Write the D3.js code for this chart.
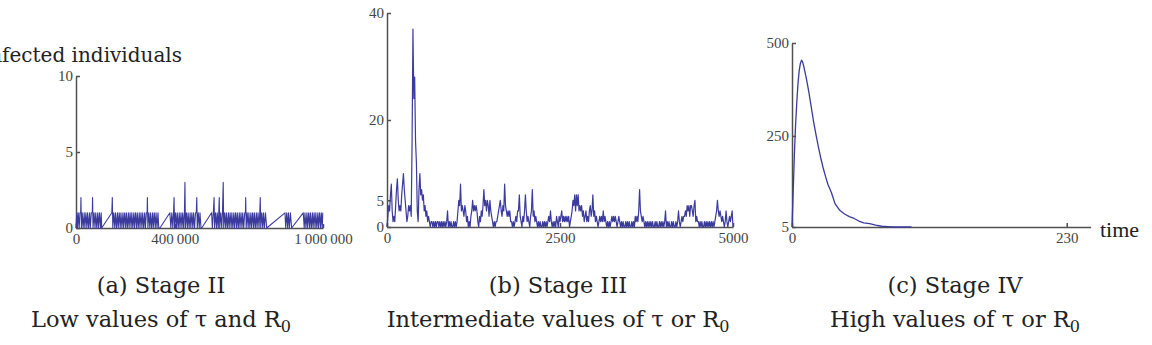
<!DOCTYPE html>
<html>
<head>
<meta charset="utf-8">
<script src="https://cdn.jsdelivr.net/npm/d3@7"></script>
<style>
  body { margin: 0; background: #fff; }
  svg { display: block; }
  .axis path, .axis line { stroke: #505050; stroke-width: 1.5; }
  .axis text { font-family: "Liberation Serif", serif; font-size: 15px; fill: #444; }
  .caption { font-family: "DejaVu Serif", serif; font-size: 22.5px; fill: #222; }
  .label { font-family: "DejaVu Serif", serif; fill: #222; }
</style>
</head>
<body>
<svg id="chart" width="1152" height="345"></svg>
<script>
// (a) Stage II : [time in thousands, infected]
var stageIIPoints = [
  [0,0],[3,1],[6,0],[9,1],[13,0],[16,1],[19,1],[20,2],[22,0],[25,1],[29,0],[33,1],[36,0],[40,1],[44,0],[47,1],
  [51,0],[55,1],[58,0],[62,1],[66,1],[67,2],[69,0],[73,1],[77,0],[80,1],[84,0],[88,1],[91,0],[95,1],[99,0],[102,1],[104,0],
  [145,1],[147,2],[149,0],[153,1],[157,0],[160,1],[164,0],[168,1],[171,0],[175,1],[179,0],[182,1],[186,0],[190,1],[193,0],
  [197,1],[201,0],[204,1],[208,0],[212,1],[215,0],[219,1],[223,0],[226,1],[230,0],[234,1],[237,0],[241,1],[245,0],[248,1],
  [252,0],[256,1],[259,0],[263,1],[267,0],[270,1],[274,0],[278,1],[281,0],[285,1],[288,1],[289,2],[291,0],[295,1],[299,0],
  [302,1],[306,0],[310,1],[313,0],[317,1],[321,0],[324,1],[328,0],[332,1],[335,0],[340,0],
  [380,1],[384,0],[388,1],[392,0],[395,1],[397,2],[399,0],[403,1],[407,0],[410,1],[414,0],[418,1],[421,0],[425,1],[429,0],
  [432,1],[436,0],[439,1],[441,3],[443,0],[447,1],[451,0],[454,1],[458,0],[462,1],[465,0],[469,1],[473,0],[476,1],[480,0],
  [484,1],[487,1],[489,2],[491,0],[495,1],[499,0],[502,1],[506,0],[509,0],
  [549,1],[552,0],[556,1],[559,2],[561,0],[565,1],[569,0],[572,1],[576,0],[578,1],[580,2],[582,0],[586,1],[590,0],[593,1],
  [596,3],[598,0],[602,1],[606,0],[609,1],[613,0],[617,1],[620,0],[624,1],[628,0],[631,1],[635,0],[639,1],[642,0],[646,1],
  [650,0],[653,1],[657,0],[661,1],[664,0],[668,1],[672,0],[675,1],[679,0],[683,1],[686,1],[687,2],[689,0],[693,1],[697,0],
  [700,1],[704,0],[708,1],[711,0],[715,1],[719,0],[722,1],[726,0],[730,1],[733,0],[737,1],[741,0],[744,1],[746,2],[748,0],
  [752,1],[756,0],[759,1],[763,0],[767,1],[772,0],
  [846,1],[849,0],[853,1],[857,0],[860,1],[864,0],[868,1],[873,0],
  [920,1],[924,0],[927,1],[931,0],[935,1],[938,0],[942,1],[946,0],[949,1],[953,0],[957,1],[960,0],[964,1],[968,0],
  [971,1],[975,0],[979,1],[982,0],[986,1],[990,0],[993,1],[997,0],[999,1]
];
var stageIIXTicks = [0, 400, 1000];
var stageIIXLabels = ["0", "400\u2009000", "1\u2009000\u2009000"];
var stageIIYTicks = [0, 5, 10];

// (b) Stage III : one value every 12.5 time units, 0..5000 (8 per row = 100 units)
var stageIIIStep = 12.5;
var stageIIICount = [
  0,2,4,3,6,8,3,1,  2,1,4,7,9,5,3,4,  3,6,8,10,7,5,3,1,  2,4,3,4,2,16,37,24,
  28,16,12,3,1,7,10,6,  7,5,6,3,4,2,3,1,  2,1,0,1,1,0,1,0,  1,0,1,1,0,1,0,1,
  0,1,0,1,0,1,3,0,  1,0,1,0,0,1,0,1,  0,1,3,5,4,8,3,4,  3,2,4,3,1,2,0,1,
  0,2,3,5,3,4,3,4,  3,1,0,2,1,3,2,4,  7,4,5,3,5,4,2,5,  3,2,1,0,1,0,1,1,
  2,3,4,5,3,2,4,3,  8,4,3,2,3,2,3,1,  1,0,1,0,1,2,1,3,  3,6,2,1,0,2,1,3,
  6,3,1,2,1,0,2,3,  7,2,3,1,2,1,0,1,  0,1,0,0,1,0,1,0,  1,0,1,2,1,3,1,0,
  1,0,1,0,2,1,0,2,  1,2,3,1,2,1,2,1,  2,1,2,0,1,2,3,5,  4,6,3,6,4,6,3,4,
  3,4,2,3,1,2,3,1,  2,1,3,4,2,3,6,2,  3,1,2,1,0,1,2,1,  2,1,3,1,2,1,0,1,
  0,1,0,1,2,1,2,1,  2,1,0,1,2,1,0,1,  0,1,0,0,1,0,1,0,  1,0,0,1,0,1,0,2,
  1,2,1,3,7,3,2,1,  2,1,0,1,0,1,0,1,  0,1,0,1,0,0,1,0,  1,0,0,1,0,1,0,1,
  0,1,3,0,1,0,1,0,  0,1,0,1,0,0,1,0,  1,3,1,0,1,2,1,2,  2,3,2,4,3,4,2,4,
  4,3,2,4,5,1,2,1,  1,0,1,0,1,0,0,1,  0,1,0,1,0,1,0,1,  0,1,0,1,2,3,5,3,
  2,3,2,1,2,1,0,1,  3,1,0,1,2,1,2,3,
  0
];
var stageIIIXTicks = [0, 2500, 5000];
var stageIIIYTicks = [0, 5, 20, 40];

// (c) Stage IV
var stageIVTime = [0, 1, 2, 3, 4, 5, 6, 7, 8, 9, 10, 12, 14, 16, 18, 20, 22, 24, 26, 28, 30, 33, 36, 40, 44, 48, 52, 56, 60, 65, 70, 75, 80, 85, 100];
var stageIVCount = [5, 100, 200, 280, 340, 390, 425, 445, 454, 448, 435, 405, 370, 330, 290, 255, 222, 192, 165, 142, 120, 98, 68, 50, 40, 33, 28, 21, 16, 14, 10, 7, 6, 5, 5];
var stageIVXTicks = [0, 230];
var stageIVYTicks = [5, 250, 500];

var captionTitles = ["(a) Stage II", "(b) Stage III", "(c) Stage IV"];
var captionLines = ["Low values of \u03c4 and R", "Intermediate values of \u03c4 or R", "High values of \u03c4 or R"];

var lineColor = "#3b3b9e";
var svg = d3.select("#chart");

function drawPanel(p) {
  var x = d3.scaleLinear().domain(p.xDomain).range(p.xRange);
  var y = d3.scaleLinear().domain(p.yDomain).range(p.yRange);

  var xAxis = d3.axisBottom(x)
    .tickValues(p.xTicks)
    .tickFormat(function(d, i) { return p.xLabels ? p.xLabels[i] : d; })
    .tickSizeInner(-4)
    .tickSizeOuter(0)
    .tickPadding(5);

  var yAxis = d3.axisLeft(y)
    .tickValues(p.yTicks)
    .tickSizeInner(-4)
    .tickSizeOuter(0)
    .tickPadding(3);

  svg.append("g")
    .attr("class", "x axis")
    .attr("transform", "translate(0," + p.yRange[0] + ")")
    .call(xAxis);

  svg.append("g")
    .attr("class", "y axis")
    .attr("transform", "translate(" + p.xRange[0] + ",0)")
    .call(yAxis);

  var line = d3.line()
    .x(function(d) { return x(d[0]); })
    .y(function(d) { return y(d[1]); });

  svg.append("path")
    .datum(p.data)
    .attr("fill", "none")
    .attr("stroke", lineColor)
    .attr("stroke-width", p.width)
    .attr("stroke-linejoin", "round")
    .attr("d", line);
}

drawPanel({
  data: stageIIPoints, width: 1.1,
  xDomain: [0, 1000], xRange: [76, 323],
  yDomain: [0, 10], yRange: [228, 76],
  xTicks: stageIIXTicks, xLabels: stageIIXLabels,
  yTicks: stageIIYTicks
});

drawPanel({
  data: stageIIICount.map(function(v, i) { return [i * stageIIIStep, v]; }), width: 1.2,
  xDomain: [0, 5000], xRange: [387, 733],
  yDomain: [0, 40], yRange: [227, 13],
  xTicks: stageIIIXTicks,
  yTicks: stageIIIYTicks
});

drawPanel({
  data: stageIVTime.map(function(t, i) { return [t, stageIVCount[i]]; }), width: 1.3,
  xDomain: [0, 250], xRange: [792, 1090.6],
  yDomain: [5, 500], yRange: [227, 43],
  xTicks: stageIVXTicks,
  yTicks: stageIVYTicks
});

// axis titles
svg.append("text")
  .attr("class", "label")
  .attr("x", 182)
  .attr("y", 62)
  .attr("text-anchor", "end")
  .style("font-size", "20px")
  .text("Infected individuals");

svg.append("text")
  .attr("class", "label")
  .attr("x", 1100)
  .attr("y", 237)
  .style("font-family", "Liberation Serif")
  .style("font-size", "22px")
  .text("time");

// captions under each panel
var captionX = [161, 558, 955];
captionTitles.forEach(function(t, i) {
  svg.append("text")
    .attr("class", "caption")
    .attr("x", captionX[i])
    .attr("y", 293)
    .attr("text-anchor", "middle")
    .text(t);

  var sub = svg.append("text")
    .attr("class", "caption")
    .attr("x", captionX[i])
    .attr("y", 327)
    .attr("text-anchor", "middle");
  sub.append("tspan").text(captionLines[i]);
  sub.append("tspan")
    .attr("dy", 5)
    .style("font-size", "16px")
    .text("0");
});
</script>
</body>
</html>
